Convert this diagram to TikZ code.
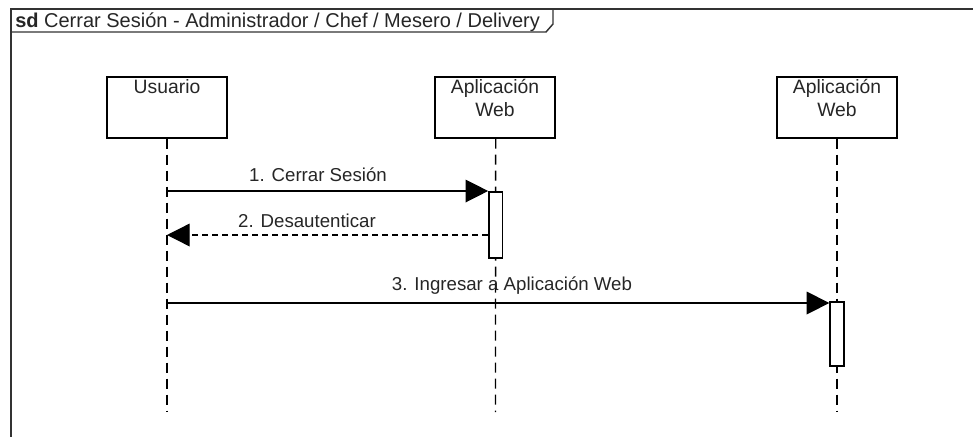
\documentclass[tikz,border=0pt]{standalone}
\usepackage{fontspec}
\setmainfont{Liberation Sans}
\usetikzlibrary{arrows.meta}
\begin{document}
\begin{tikzpicture}[x=0.75pt,y=-0.75pt,
  every node/.style={font=\fontsize{14.5}{17.5}\selectfont, inner sep=0pt, text=black!85},
  frameline/.style={draw=black!80, line width=1.1pt},
  lifebox/.style={draw=black, line width=1pt, fill=white, minimum width=90pt, minimum height=45.75pt},
  lifeline/.style={draw=black, line width=1pt, dash pattern=on 7.5pt off 4.5pt},
  actbox/.style={draw=black, line width=1pt, fill=white},
  msg/.style={draw=black, line width=1pt, -{Triangle[length=17pt,width=17pt]}},
  retmsg/.style={msg, dash pattern=on 4.5pt off 3pt},
  lbl/.style={anchor=base, font=\fontsize{14}{16}\selectfont}]
\useasboundingbox (0,0) rectangle (973,436);
\begin{scope}
\clip (0,0) rectangle (973,436);
\draw[frameline] (11,9) rectangle (1000,460);
\end{scope}
% title tab
\draw[frameline] (11,32) -- (546,32) -- (553,24) -- (553,9);
\node[anchor=base west, font=\fontsize{15}{17}\selectfont] (title) at (15,27) {\textbf{sd} Cerrar Sesión - Administrador / Chef / Mesero / Delivery};

% lifeline heads
\node[lifebox] (u) at (167,107.5) {};
\node[anchor=north] (ut) at (167,79) {Usuario};
\node[lifebox] (a1) at (495,107.5) {};
\node[anchor=north, align=center] (a1t) at (495,79) {Aplicación\\Web};
\node[lifebox] (a2) at (837,107.5) {};
\node[anchor=north, align=center] (a2t) at (837,79) {Aplicación\\Web};

% lifeline ends
\coordinate (ue) at (167,412);
\coordinate (a1e) at (495.5,412);
\coordinate (a2e) at (837,412);
\draw[lifeline] (u.south) -- (ue);
\draw[lifeline] ([xshift=0.5]a1.south) -- (a1e);
\draw[lifeline] (a2.south) -- (a2e);

% activations
\node[actbox, minimum width=10pt, minimum height=49.5pt] (act1) at (495.5,225) {};
\node[actbox, minimum width=10.5pt, minimum height=48pt] (act2) at (837,334) {};

% messages
\coordinate (m1s) at (167,191);
\draw[msg] (m1s) -- (act1.north west |- m1s);
\node[lbl] (l1) at (318,181) {1. Cerrar Sesión};

\coordinate (m2s) at (167,235);
\draw[retmsg] (act1.west |- m2s) -- (m2s);
\node[lbl] (l2) at (307,227) {2. Desautenticar};

\coordinate (m3s) at (167,303);
\draw[msg] (m3s) -- (act2.north west |- m3s);
\node[lbl] (l3) at (512,290) {3. Ingresar a Aplicación Web};
\end{tikzpicture}
\end{document}
